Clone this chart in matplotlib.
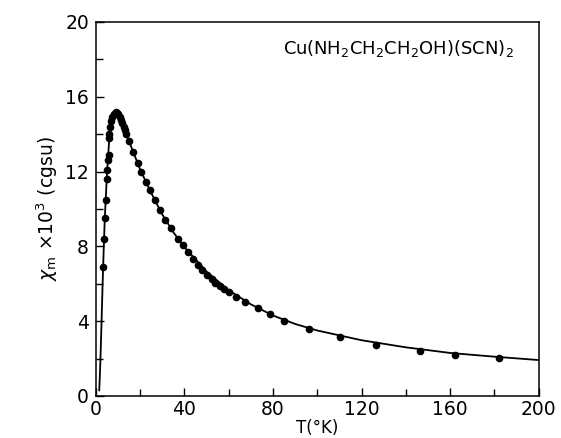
import matplotlib
matplotlib.use("Agg")
import matplotlib.pyplot as plt

# theoretical curve
curve_T = [1.5, 2.0, 2.5, 3.0, 3.5, 4.0, 5.0, 6.0, 7.0, 8.0, 9.0, 10.0, 12.0, 15.0,
           20.0, 25.0, 30.0, 35.0, 40.0, 50.0, 60.0, 70.0, 80.0, 90.0, 100.0,
           120.0, 140.0, 160.0, 180.0, 200.0]
curve_chi = [0.3, 1.8, 3.8, 5.9, 7.8, 9.5, 11.9, 13.7, 14.7, 15.15, 15.25, 15.1, 14.5, 13.6,
             12.1, 10.85, 9.7, 8.75, 7.95, 6.65, 5.65, 4.9, 4.3, 3.85, 3.5,
             2.98, 2.6, 2.3, 2.1, 1.92]

# measured points
data_T = [3.2, 3.6, 3.9, 4.4, 5.0, 5.2, 5.4, 5.7, 5.9, 6.0, 6.5, 7.0, 7.4, 8.0, 8.5, 9.0,
          9.5, 10.0, 10.7, 11.3, 11.9, 12.5, 13.0, 13.7, 15.0, 16.8, 19.0, 20.5, 22.8,
          24.3, 26.6, 28.9, 31.2, 34.1, 37.2, 39.5, 41.5, 44.0, 46.0, 47.8, 50.0, 52.3,
          54.0, 56.1, 58.0, 60.0, 63.2, 67.4, 73.2, 78.8, 85.1, 96.2, 110.4, 126.5,
          146.5, 162.2, 181.9]
data_chi = [6.9, 8.4, 9.5, 10.5, 11.6, 12.1, 12.6, 12.9, 13.8, 14.0, 14.4, 14.7, 14.9,
            15.05, 15.1, 15.2, 15.15, 15.05, 14.9, 14.75, 14.6, 14.4, 14.2, 14.0, 13.65,
            13.07, 12.44, 12.0, 11.46, 11.0, 10.48, 9.95, 9.41, 8.96, 8.4, 8.05, 7.7,
            7.3, 7.0, 6.75, 6.45, 6.25, 6.05, 5.9, 5.7, 5.55, 5.31, 5.04, 4.68, 4.38,
            4.01, 3.6, 3.14, 2.75, 2.41, 2.21, 2.01]

x_ticks = [0, 40, 80, 120, 160, 200]
y_ticks = [0, 4, 8, 12, 16, 20]

plt.rcParams['font.family'] = ['DejaVu Sans']
fig = plt.figure(figsize=(5.61, 4.38), dpi=100)
ax = fig.add_axes([0.171, 0.096, 0.789, 0.854])

ax.plot(curve_T, curve_chi, color='black', lw=1.3)
ax.plot(data_T, data_chi, 'o', color='black', ms=4.5, mec='black')

ax.set_xlim(0, 200)
ax.set_ylim(0, 20)
ax.set_xticks(x_ticks)
ax.set_yticks(y_ticks)
ax.set_xticks(range(20, 200, 40), minor=True)
ax.set_yticks(range(2, 20, 4), minor=True)
ax.tick_params(which='both', direction='in', top=False, right=False,
               labelsize=13.5, width=1.0)
ax.tick_params(which='major', length=6)
ax.tick_params(axis='x', which='major', pad=3)
ax.tick_params(axis='y', which='major', pad=5)
ax.tick_params(which='minor', length=5)
for s in ax.spines.values():
    s.set_linewidth(1.1)

ax.set_xlabel('T(°K)', fontsize=12, labelpad=0)
ax.set_ylabel(r'$\chi_{\rm m}$' + ' ×10$^3$ (cgsu)', fontsize=13.5, labelpad=4)

ax.text(0.423, 0.93, r'Cu(NH$_2$CH$_2$CH$_2$OH)(SCN)$_2$', transform=ax.transAxes,
        fontsize=13, ha='left', va='center')

fig.savefig('out.png', dpi=100)
